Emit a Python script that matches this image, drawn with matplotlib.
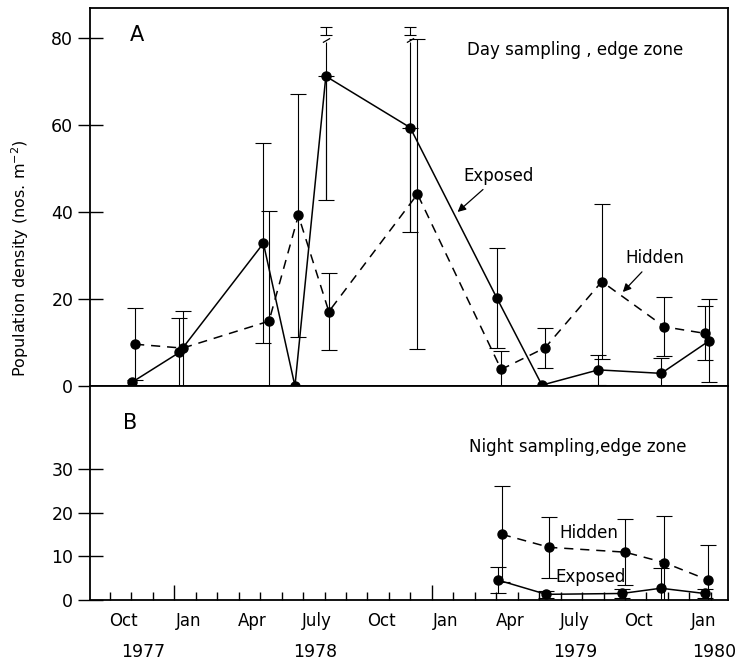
import numpy as np
import matplotlib
matplotlib.use("Agg")
import matplotlib.pyplot as plt

# months counted from Jan 1977 (x = 12 -> 1 Jan 1978)
exposed_day_x = [10.04, 12.23, 16.15, 17.62, 19.06, 22.99, 27.03, 29.13, 31.76, 34.69, 36.93]
exposed_day = [0.9, 7.7, 32.8, 0.0, 71.2, 59.4, 20.2, 0.2, 3.7, 2.9, 10.4]
exposed_day_err = [0, 8.0, 23.0, 0, 28.5, 24.0, 11.5, 0, 3.5, 3.5, 9.5]

hidden_day_x = [10.17, 12.39, 16.41, 17.78, 19.2, 23.33, 27.23, 29.28, 31.92, 34.84, 36.71]
hidden_day = [9.6, 8.7, 14.9, 39.2, 17.1, 44.1, 3.8, 8.8, 24.0, 13.6, 12.1]
hidden_day_err = [8.3, 8.6, 25.4, 28.0, 8.9, 35.6, 4.3, 4.6, 17.8, 6.8, 6.2]

exposed_night_x = [27.07, 29.33, 32.85, 34.67, 36.71]
exposed_night = [4.6, 1.3, 1.5, 2.7, 1.5]
exposed_night_err = [2.9, 0.8, 1.0, 4.6, 1.0]

hidden_night_x = [27.26, 29.48, 33.0, 34.83, 36.87]
hidden_night = [15.1, 12.1, 11.0, 8.6, 4.6]
hidden_night_err = [11.0, 7.0, 7.6, 10.6, 8.0]

month_labels = ["Oct", "Jan", "Apr", "July", "Oct", "Jan", "Apr", "July", "Oct", "Jan"]
month_starts = [9, 12, 15, 18, 21, 24, 27, 30, 33, 36]
year_labels = ["1977", "1978", "1979", "1980"]
year_pos = [10.55, 18.55, 30.7, 37.15]

BREAK_AT = 79.0

plt.rcParams["font.family"] = ["DejaVu Sans"]

fig = plt.figure(figsize=(7.39, 6.68), dpi=100)
ax1 = fig.add_axes([0.1218, 0.4222, 0.8633, 0.5659])
ax2 = fig.add_axes([0.1218, 0.1018, 0.8633, 0.3204])

bar_kw = dict(fmt="none", ecolor="black", elinewidth=0.8, capthick=0.8)
line_kw = dict(color="black", marker="o", ms=6.5, lw=1.1)


def draw_series(ax, x, y, err, dashed=False, broken_top=None):
    x = np.asarray(x, float)
    y = np.asarray(y, float)
    err = np.asarray(err, float)
    has = err > 0
    if broken_top is not None:
        brk = has & (y + err > broken_top + 2)
    else:
        brk = np.zeros_like(has)
    ok = has & ~brk
    ax.errorbar(x[ok], y[ok], yerr=err[ok], capsize=6, **bar_kw)
    if brk.any():
        ax.errorbar(x[brk], y[brk], yerr=[err[brk], broken_top - y[brk]], capsize=0, **bar_kw)
        ax.errorbar(x[brk], y[brk], yerr=[err[brk], np.zeros(brk.sum())], capsize=6, **bar_kw)
        stub = np.full(brk.sum(), broken_top + 2.6)
        ax.errorbar(x[brk], stub, yerr=0.9, capsize=4, **bar_kw)
        ax.plot(x[brk], np.full(brk.sum(), broken_top + 0.6), ls="none",
                marker=(2, 0, -60), ms=6, color="black", mew=0.9)
    if dashed:
        ax.plot(x, y, ls=(0, (6, 4.5)), **line_kw)
    else:
        ax.plot(x, y, ls="-", **line_kw)


draw_series(ax1, exposed_day_x, exposed_day, exposed_day_err, broken_top=BREAK_AT)
draw_series(ax1, hidden_day_x, hidden_day, hidden_day_err, dashed=True)
draw_series(ax2, exposed_night_x, exposed_night, exposed_night_err)
draw_series(ax2, hidden_night_x, hidden_night, hidden_night_err, dashed=True)

for ax in (ax1, ax2):
    ax.set_xlim(8.07, 37.8)
    for s in ax.spines.values():
        s.set_linewidth(1.3)
    ax.tick_params(axis="y", direction="inout", length=18, width=1.0,
                   labelsize=12.5, pad=3)

ax1.set_ylim(0, 86.9)
ax1.set_yticks([0, 20, 40, 60, 80])
ax1.tick_params(axis="x", bottom=False, labelbottom=False)

ax2.set_ylim(0, 49.2)
ax2.set_yticks([0, 10, 20, 30])
ax2.set_xticks([12, 24])
ax2.set_xticks(range(9, 38), minor=True)
ax2.tick_params(axis="x", which="major", direction="in", length=11, width=1.0,
                labelbottom=False)
ax2.tick_params(axis="x", which="minor", direction="in", length=6, width=1.0)

sec = ax2.secondary_xaxis("bottom")
sec.set_xticks([m + 0.65 for m in month_starts])
sec.set_xticklabels(month_labels)
sec.tick_params(length=0, labelsize=12, pad=9)
sec.spines["bottom"].set_visible(False)

for lab, xp in zip(year_labels, year_pos):
    ax2.text(xp, -0.245, lab, transform=ax2.get_xaxis_transform(),
             ha="center", va="center", fontsize=12.5)

ax1.text(0.074, 0.929, "A", transform=ax1.transAxes, fontsize=15,
         ha="center", va="center")
ax2.text(0.063, 0.827, "B", transform=ax2.transAxes, fontsize=15,
         ha="center", va="center")
ax1.text(0.76, 0.889, "Day sampling , edge zone", transform=ax1.transAxes,
         fontsize=12, ha="center", va="center")
ax2.text(0.765, 0.715, "Night sampling,edge zone", transform=ax2.transAxes,
         fontsize=12, ha="center", va="center")

arrow = dict(arrowstyle="-|>", color="black", lw=0.9, mutation_scale=12,
             shrinkA=2, shrinkB=0)
ax1.annotate("Exposed", xy=(25.2, 40.0), xytext=(27.1, 48.3), fontsize=12,
             ha="center", va="center", arrowprops=arrow)
ax1.annotate("Hidden", xy=(32.9, 21.6), xytext=(34.4, 29.4), fontsize=12,
             ha="center", va="center", arrowprops=arrow)
ax2.text(31.3, 15.4, "Hidden", fontsize=12, ha="center", va="center")
ax2.text(31.4, 5.3, "Exposed", fontsize=12, ha="center", va="center")

fig.text(0.027, 0.614, "Population density (nos. m$^{-2}$)", rotation=90,
         ha="center", va="center", fontsize=11.5)

fig.savefig("out.png", dpi=100)
